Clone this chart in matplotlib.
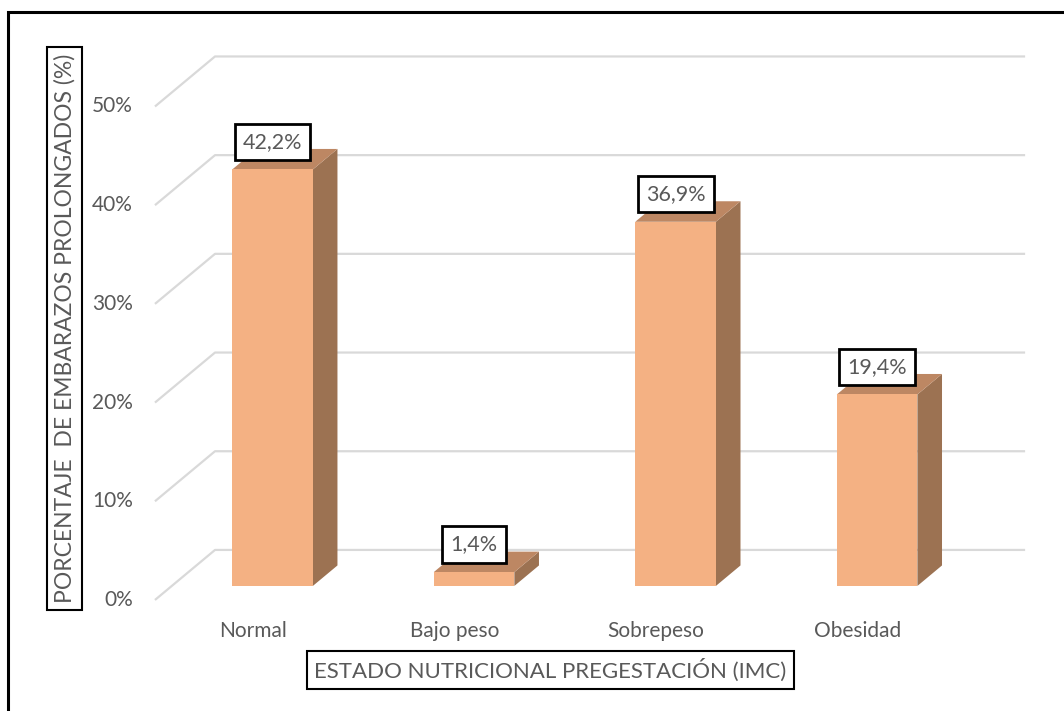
import matplotlib
matplotlib.use('Agg')
import matplotlib.pyplot as plt
from matplotlib.patches import Polygon, Rectangle

plt.rcParams['font.family'] = ['Lato', 'DejaVu Sans']

# datos
categorias = ['Normal', 'Bajo peso', 'Sobrepeso', 'Obesidad']
porcentajes = [42.2, 1.4, 36.9, 19.4]
etiquetas = ['42,2%', '1,4%', '36,9%', '19,4%']
ticks = [0, 10, 20, 30, 40, 50]
tick_labels = ['0%', '10%', '20%', '30%', '40%', '50%']

GRIS = '#595959'
FRENTE = '#F4B183'
LADO = '#9C7252'
TAPA = '#BD8763'

# proyeccion oblicua: d = profundidad (0 frente, 1 fondo)
DX, DY = 0.298, 5.07


def proj(x, y, d):
    return (x + d * DX, y + d * DY)


fig = plt.figure(figsize=(10.64, 7.11), dpi=100)
ax = fig.add_axes([0, 0, 1, 1])
ax.set_xlim(-1.269, 4.011)
ax.set_ylim(-11.25, 60.79)
ax.axis('off')

# lineas de division
xmin, xmax = -0.5, 3.52
for t, lab in zip(ticks, tick_labels):
    p0 = proj(xmin, t, 0)
    p1 = proj(xmin, t, 1)
    p2 = proj(xmax, t, 1)
    ax.plot([p0[0], p1[0], p2[0]], [p0[1], p1[1], p2[1]],
            color='#D9D9D9', lw=1.6, solid_capstyle='butt', zorder=1)
    ax.annotate(lab, p0, xytext=(-16, 0), textcoords='offset points',
                ha='right', va='center', fontsize=15, color=GRIS)

# barras 3D
w = 0.2
d0, d1 = 0.28, 0.69
for i, (v, et) in enumerate(zip(porcentajes, etiquetas)):
    x0, x1 = i - w, i + w
    frente = [proj(x0, 0, d0), proj(x1, 0, d0), proj(x1, v, d0), proj(x0, v, d0)]
    lado = [proj(x1, 0, d0), proj(x1, 0, d1), proj(x1, v, d1), proj(x1, v, d0)]
    tapa = [proj(x0, v, d0), proj(x1, v, d0), proj(x1, v, d1), proj(x0, v, d1)]
    ax.add_patch(Polygon(lado, closed=True, fc=LADO, ec='none', zorder=3))
    ax.add_patch(Polygon(tapa, closed=True, fc=TAPA, ec='none', zorder=3))
    ax.add_patch(Polygon(frente, closed=True, fc=FRENTE, ec='none', zorder=4))
    ax.annotate(et, proj(i, v, d0), xytext=(0, 20), textcoords='offset points',
                ha='center', va='center', fontsize=15.5, color=GRIS, zorder=6,
                bbox=dict(boxstyle='square,pad=0.38', fc='white', ec='black', lw=2))
    ax.annotate(categorias[i], proj(i, 0, 0), xytext=(-2, -22),
                textcoords='offset points', ha='center', va='center',
                fontsize=15, color=GRIS)

# titulos de ejes
fig.text(64.5 / 1064, 1 - 328 / 711, 'PORCENTAJE  DE EMBARAZOS PROLONGADOS (%)',
         rotation=90, ha='center', va='center', fontsize=16.5, color=GRIS,
         bbox=dict(boxstyle='square,pad=0.3', fc='white', ec='black', lw=1.5))
fig.text(550.5 / 1064, 1 - 670 / 711, 'ESTADO NUTRICIONAL PREGESTACIÓN (IMC)',
         ha='center', va='center', fontsize=16, color=GRIS,
         bbox=dict(boxstyle='square,pad=0.32', fc='white', ec='black', lw=1.5))

# marco exterior
fig.add_artist(Rectangle((8 / 1064, -0.1), 1.2, 1.1 - 12 / 711,
                         transform=fig.transFigure, fill=False, ec='black', lw=2.2))

fig.savefig('out.png', dpi=100)
